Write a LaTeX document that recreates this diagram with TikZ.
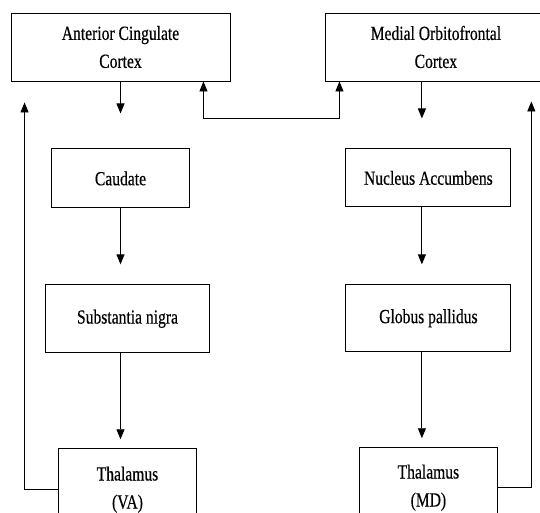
\documentclass[tikz,border=0pt]{standalone}
\usepackage{fontspec}
\setmainfont{Liberation Serif}[FakeStretch=0.78, FakeBold=0.4]
\usetikzlibrary{
	positioning,						% Relative positioning
	arrows.meta							% Arrow tips
}

\begin{document}
\begin{tikzpicture}
		[
		,x=1pt
		,y=-1pt
		,box/.style = {
			,draw=black
			,line width=0.9pt
			,inner sep=0pt
			,align=center
			,font=\fontsize{20}{28}\selectfont}
		,link/.style = {
			,line width=0.9pt}
		,arrow_head/.tip = {
			Triangle[length=10pt, width=8pt]}
		]

		% Frame
		\useasboundingbox (0,0) rectangle (540,512);
		\clip (0,0) rectangle (540,512);

		% Left column
		\node [box, minimum width=219pt, minimum height=68pt]                       (acc)  at (120.5,47) {Anterior Cingulate\\Cortex};
		\node [box, minimum width=138pt, minimum height=59pt, below=67pt of acc]     (caud) {Caudate};
		\node [box, minimum width=164pt, minimum height=68pt, below=76pt of caud, xshift=7pt] (snig) {Substantia nigra};
		\node [box, minimum width=138pt, minimum height=82pt, below=95pt of snig]    (thva) {Thalamus\\(VA)};

		% Right column
		\node [box, minimum width=220pt, minimum height=68pt, right=95pt of acc]     (moc)  {Medial Orbitofrontal\\Cortex};
		\node [box, minimum width=165pt, minimum height=58pt, below=67pt of moc, xshift=-7.5pt] (nacc) {Nucleus Accumbens};
		\node [box, minimum width=165pt, minimum height=67pt, below=77pt of nacc]    (gpal) {Globus pallidus};
		\node [box, minimum width=138pt, minimum height=80pt, below=95pt of gpal]    (thmd) {Thalamus\\(MD)};

		% Column lines
		\coordinate (lcol) at (acc.south);
		\coordinate (rcol) at ([xshift=-14pt]moc.south);

		% Forward pathways
		\draw [link, -arrow_head, shorten >=35pt] (lcol) -- (lcol |- caud.north);
		\draw [link, -arrow_head, shorten >=20pt] (lcol |- caud.south) -- (lcol |- snig.north);
		\draw [link, -arrow_head, shorten >=9pt]  (lcol |- snig.south) -- (lcol |- thva.north);
		\draw [link, -arrow_head, shorten >=30pt] (rcol) -- (rcol |- nacc.north);
		\draw [link, -arrow_head, shorten >=20pt] (rcol |- nacc.south) -- (rcol |- gpal.north);
		\draw [link, -arrow_head, shorten >=9pt]  (rcol |- gpal.south) -- (rcol |- thmd.north);

		% Feedback loops
		\draw [link, -arrow_head, shorten >=21pt] (thva.west) -| ([xshift=14pt]acc.south west);
		\draw [link, -arrow_head, shorten >=20pt] (thmd.east) -| ([xshift=-15pt]moc.south east);

		% Cortical link
		\draw [link, arrow_head-arrow_head] ([xshift=-27pt]acc.south east) -- ++(0,37) -| ([xshift=14pt]moc.south west);
	\end{tikzpicture}
\end{document}
